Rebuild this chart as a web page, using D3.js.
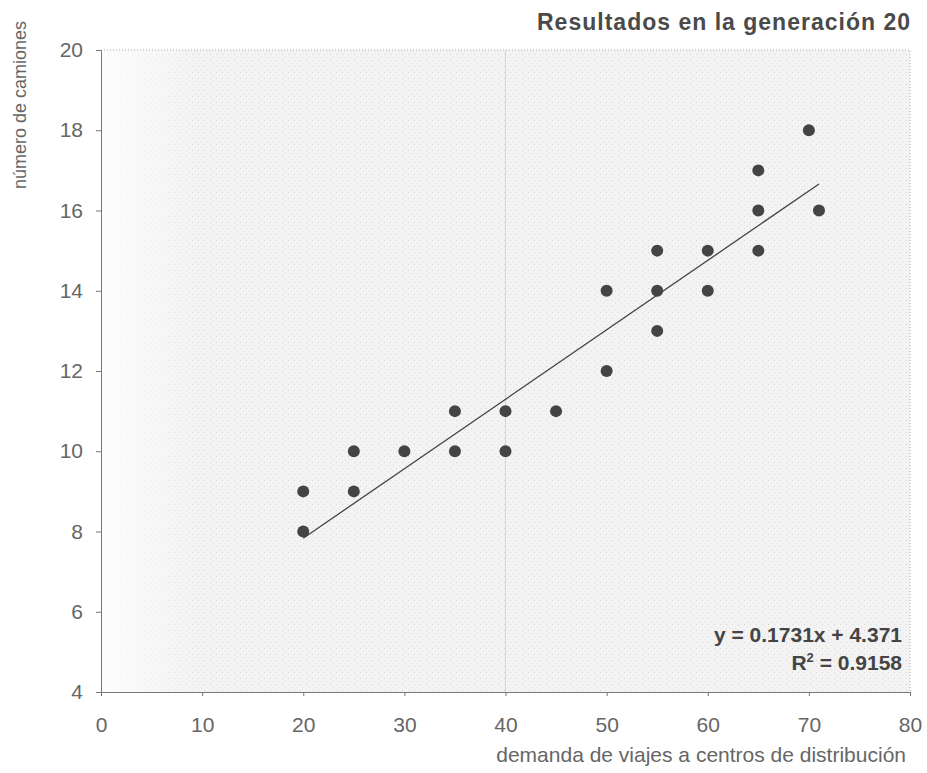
<!DOCTYPE html>
<html><head><meta charset="utf-8">
<script src="https://cdn.jsdelivr.net/npm/d3@7"></script>
<style>body{margin:0;background:#fff;} svg{display:block;}</style>
</head><body>
<script>
const demand = [20,20,25,25,30,35,35,40,40,45,50,50,55,55,55,60,60,65,65,65,70,71];
const trucks = [9,8,10,9,10,11,10,11,10,11,14,12,15,14,13,15,14,17,16,15,18,16];
const xTicks = [0,10,20,30,40,50,60,70,80];
const yTicks = [4,6,8,10,12,14,16,18,20];
const slope = 0.1731, intercept = 4.371, r2 = 0.9158;
const title = "Resultados en la generación 20";
const xLabel = "demanda de viajes a centros de distribución";
const yLabel = "número de camiones";

const W = 927, H = 773;
const m = {left:101, right:17, top:50, bottom:81};
const svg = d3.select("body").append("svg").attr("width",W).attr("height",H);
const x = d3.scaleLinear().domain([0,80]).range([m.left, W-m.right]);
const y = d3.scaleLinear().domain([4,20]).range([H-m.bottom, m.top]);

const defs = svg.append("defs");
const pat = defs.append("pattern").attr("id","dots").attr("width",6).attr("height",6).attr("patternUnits","userSpaceOnUse");
pat.append("rect").attr("width",6).attr("height",6).attr("fill","#f3f3f3");
pat.append("rect").attr("width",1).attr("height",1).attr("fill","#d8d8d8");
pat.append("rect").attr("x",3).attr("y",3).attr("width",1).attr("height",1).attr("fill","#e2e2e2");
const grad = defs.append("linearGradient").attr("id","fade").attr("x1",0).attr("x2",1);
grad.append("stop").attr("offset",0).attr("stop-color","#fff").attr("stop-opacity",0.85);
grad.append("stop").attr("offset",0.12).attr("stop-color","#fff").attr("stop-opacity",0);

const pw = x(80)-x(0), ph = y(4)-y(20);
svg.append("rect").attr("x",x(0)).attr("y",y(20)).attr("width",pw).attr("height",ph).attr("fill","url(#dots)");
svg.append("rect").attr("x",x(0)).attr("y",y(20)).attr("width",pw).attr("height",ph).attr("fill","url(#fade)");
// faint vertical line at 40
svg.append("line").attr("x1",x(40)).attr("x2",x(40)).attr("y1",y(20)).attr("y2",y(4)).attr("stroke","#d6d6d6");
// dotted top and right border
svg.append("path").attr("d",`M${x(0)},${y(20)}H${x(80)}V${y(4)}`).attr("fill","none")
  .attr("stroke","#aaa").attr("stroke-dasharray","1,2");

const font = "Liberation Sans, Arial, sans-serif";
const xa = svg.append("g").attr("transform",`translate(0,${y(4)})`)
  .call(d3.axisBottom(x).tickValues(xTicks).tickSize(4).tickPadding(21).tickSizeOuter(0));
const ya = svg.append("g").attr("transform",`translate(${x(0)},0)`)
  .call(d3.axisLeft(y).tickValues(yTicks).tickSize(5).tickPadding(13).tickSizeOuter(0));
[xa,ya].forEach(g=>{
  g.selectAll("path,line").attr("stroke","#777");
  g.selectAll("text").attr("fill","#666").attr("font-size",21).attr("font-family",font);
});

// trendline
const x0 = d3.min(demand), x1 = d3.max(demand);
svg.append("line").attr("x1",x(x0)).attr("y1",y(slope*x0+intercept))
  .attr("x2",x(x1)).attr("y2",y(slope*x1+intercept)).attr("stroke","#444").attr("stroke-width",1.3);

svg.append("g").selectAll("circle").data(demand.map((d,i)=>[d,trucks[i]])).join("circle")
  .attr("cx",d=>x(d[0])).attr("cy",d=>y(d[1])).attr("r",6).attr("fill","#444");

svg.append("text").attr("x",537).attr("y",30)
  .attr("textLength",373).attr("lengthAdjust","spacing")
  .attr("font-family",font).attr("font-weight","bold").attr("font-size",23).attr("fill","#4a4a4a").text(title);
svg.append("text").attr("x",906).attr("y",762).attr("text-anchor","end")
  .attr("font-family",font).attr("font-size",21).attr("fill","#666").text(xLabel);
svg.append("text").attr("transform",`translate(26,105) rotate(-90)`).attr("text-anchor","middle")
  .attr("font-family",font).attr("font-size",18).attr("fill","#666").text(yLabel);

const eq = svg.append("g").attr("font-family",font).attr("font-weight","bold").attr("font-size",21)
  .attr("fill","#444").attr("text-anchor","end");
eq.append("text").attr("x",902).attr("y",642).text(`y = ${slope}x + ${intercept}`);
const t2 = eq.append("text").attr("x",902).attr("y",670);
t2.append("tspan").text("R");
t2.append("tspan").attr("dy",-8).attr("font-size",13).text("2");
t2.append("tspan").attr("dy",8).text(` = ${r2}`);
</script>
</body></html>
